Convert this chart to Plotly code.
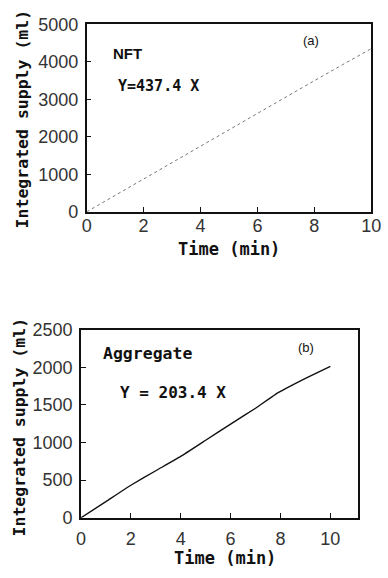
import plotly.graph_objects as go

# Panel (a) NFT
time_a = [0, 1, 2, 3, 4, 5, 6, 7, 8, 9, 10]
supply_a = [0, 440, 875, 1310, 1750, 2185, 2620, 3060, 3500, 3930, 4355]
# Panel (b) Aggregate
time_b = [0, 1, 2, 3, 4, 5, 6, 7, 7.8, 9, 10]
supply_b = [0, 215, 432, 625, 815, 1030, 1245, 1455, 1640, 1850, 2012]

ticks_a_y = [0, 1000, 2000, 3000, 4000, 5000]
ticks_b_y = [0, 500, 1000, 1500, 2000, 2500]
ticks_x = [0, 2, 4, 6, 8, 10]

W, H = 388, 578
def px(x): return x / W
def py(y): return 1 - y / H

fig = go.Figure()
fig.add_trace(go.Scatter(x=time_a, y=supply_a, mode="lines", xaxis="x", yaxis="y",
                         line=dict(color="#777777", width=1.0, dash="dot"), showlegend=False))
fig.add_trace(go.Scatter(x=time_b, y=supply_b, mode="lines", xaxis="x2", yaxis="y2",
                         line=dict(color="#111111", width=1.4, shape="spline", smoothing=0.3),
                         showlegend=False))

tickfont_y = dict(family="Liberation Sans, Arial", size=18, color="#333")
tickfont_x = dict(family="Liberation Sans, Arial", size=18, color="#333")
common = dict(showgrid=False, zeroline=False, showline=True, linecolor="#111", linewidth=1.5,
              mirror=True, ticks="inside", ticklen=5, tickwidth=1.2, tickcolor="#111",
              ticklabeloverflow="allow")

fig.update_layout(
    width=W, height=H, margin=dict(l=0, r=0, t=0, b=0),
    paper_bgcolor="white", plot_bgcolor="white",
    xaxis=dict(domain=[px(85), px(381)], range=[0, 10], tickvals=ticks_x, anchor="y",
               tickfont=tickfont_x, ticklabelstandoff=-3, **common),
    yaxis=dict(domain=[py(209), py(15)], range=[0, 5000], tickvals=ticks_a_y, anchor="x",
               tickfont=tickfont_y, ticklabelstandoff=3, **common),
    xaxis2=dict(domain=[px(79), px(367)], range=[0, 11.1], tickvals=ticks_x, anchor="y2",
                tickfont=tickfont_x, ticklabelstandoff=4, **common),
    yaxis2=dict(domain=[py(526), py(331)], range=[0, 2500], tickvals=ticks_b_y, anchor="x2",
                tickfont=tickfont_y, ticklabelstandoff=3, **common),
)

mono = "DejaVu Sans Mono"
def ann(text, x, y, size, bold=True, angle=0, family=mono, xanchor="center"):
    fig.add_annotation(text=f"<b>{text}</b>" if bold else text, x=px(x), y=py(y),
                       xref="paper", yref="paper", showarrow=False, textangle=angle,
                       xanchor=xanchor, yanchor="middle",
                       font=dict(family=family, size=size, color="#111"))

# Panel (a) texts
ann("Integrated supply (ml)", 18, 113, 16.5, angle=-90)
ann("Time (min)", 233, 248, 17)
ann("NFT", 110, 45, 15, family="Liberation Sans, Arial", xanchor="left")
ann("Y=437.4 X", 115, 79, 15, xanchor="left")
ann("(a)", 308, 32, 13, bold=False, family="Liberation Sans, Arial", xanchor="left")

# Panel (b) texts
ann("Integrated supply (ml)", 15, 432, 16.5, angle=-90)
ann("Time (min)", 229, 568, 17)
ann("Aggregate", 100, 356, 16.5, xanchor="left")
ann("Y = 203.4 X", 118, 396, 16, xanchor="left")
ann("(b)", 303, 350, 13, bold=False, family="Liberation Sans, Arial", xanchor="left")

fig.write_html("out.html")
